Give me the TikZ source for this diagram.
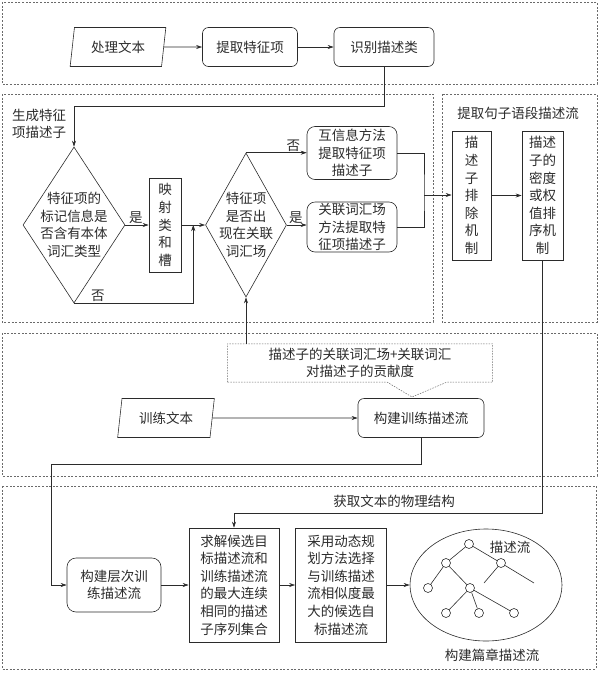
\documentclass[tikz,border=0pt]{standalone}
\usepackage{fontspec}
\newfontfamily\zhfont{Noto Sans CJK SC}
\usetikzlibrary{arrows.meta, positioning, calc, shapes.geometric}
\definecolor{inkgray}{HTML}{2B2B2B}
\definecolor{framegray}{HTML}{6A6A6A}
\tikzset{
  txt/.style={font=\zhfont\fontsize{13.5}{17.6}\selectfont, text=inkgray,
              align=center, inner sep=0pt},
  base/.style={txt, draw=inkgray, line width=0.6pt},
  plain/.style={base, rectangle},
  proc/.style={base, rectangle, rounded corners=6pt, minimum height=39pt},
  io/.style={base, trapezium, trapezium left angle=78, trapezium right angle=102,
             trapezium stretches=true, minimum width=#1, minimum height=39pt},
  io/.default=96pt,
  decide/.style={base, diamond},
  lbl/.style={font=\zhfont\fontsize{13.5}{17.6}\selectfont, text=inkgray, inner sep=1pt},
  region/.style={draw=framegray, line width=0.5pt, dash pattern=on 2pt off 1.6pt},
  note/.style={draw=framegray, line width=0.5pt, dash pattern=on 1.5pt off 1.2pt},
  arr/.style={-{Stealth[length=6pt, width=4pt]}, draw=inkgray, line width=0.6pt},
  wire/.style={draw=inkgray, line width=0.6pt},
  tnode/.style={circle, draw=inkgray, line width=0.6pt, minimum size=9pt, inner sep=0pt},
}

\begin{document}
\begin{tikzpicture}[x=1pt, y=-1pt]
  \useasboundingbox (0,0) rectangle (599,673);

  % Dashed frames of the five stages
  \draw[region] (2,2) rectangle (597,84);
  \draw[region] (2,94) rectangle (433,322);
  \draw[region] (442,94) rectangle (597,322);
  \draw[region] (2,333) rectangle (597,476);
  \draw[region] (2,486) rectangle (596,669);

  % Text preprocessing
  \node[io=96pt] (rawtext) at (118,47) {处理文本};
  \node[proc, minimum width=95pt] (extract) at (250,47) {提取特征项};
  \node[proc, minimum width=100pt] (ident) at (384,47) {识别描述类};

  % Feature item descriptors
  \node[lbl, align=left, anchor=west] (gendesc) at (11,124) {生成特征\\项描述子};
  \node[decide, minimum width=102pt, minimum height=156pt,
        label={[txt]center:{特征项的\\标记信息是\\否含有本体\\词汇类型}}] (onto) at (74,225) {};
  \node[plain, minimum width=32pt, minimum height=94pt] (mapslot) at (165,225) {映\\射\\类\\和\\槽};
  \node[decide, minimum width=81pt, minimum height=144pt,
        label={[txt]center:{特征项\\是否出\\现在关联\\词汇场}}] (infield) at (246,225) {};
  \coordinate (junc) at ($(mapslot.east)!0.5!(infield.west)$);
  \node[proc, minimum width=90pt, minimum height=53pt, rounded corners=8pt] (mutual) at (352,153) {互信息方法\\提取特征项\\描述子};
  \node[proc, minimum width=90pt, minimum height=50pt, rounded corners=8pt] (relfield) at (352,227) {关联词汇场\\方法提取特\\征项描述子};
  \coordinate (merge) at (424,195);

  % Sentence segment descriptor flow
  \node[lbl] (sentlbl) at (518,113) {提取句子语段描述流};
  \node[plain, minimum width=39pt, minimum height=129pt] (exclude) at (471.5,195.5) {描\\述\\子\\排\\除\\机\\制};
  \node[plain, minimum width=41pt, minimum height=129pt] (rank) at (542.5,195.5) {描述\\子的\\密度\\或权\\值排\\序机\\制};

  % Training flow
  \node[txt, minimum width=265pt, minimum height=38pt] (contrib) at (360,363) {描述子的关联词汇场+关联词汇\\对描述子的贡献度};
  \coordinate (tip) at (412,397);
  \node[io=97pt] (train) at (166,418) {训练文本};
  \node[proc, minimum width=126pt] (buildtrain) at (421,418) {构建训练描述流};

  % Chapter descriptor flow
  \node[proc, minimum width=94pt, minimum height=54pt, rounded corners=9pt] (layered) at (114,585) {构建层次训\\练描述流};
  \node[plain, minimum width=90pt, minimum height=114pt] (solve) at (234,585) {求解候选目\\标描述流和\\训练描述流\\的最大连续\\相同的描述\\子序列集合};
  \node[plain, minimum width=91pt, minimum height=114pt] (dynprog) at (341,585) {采用动态规\\划方法选择\\与训练描述\\流相似度最\\大的候选自\\标描述流};
  \node[base, ellipse, minimum width=152pt, minimum height=112pt] (docflow) at (486,585) {};
  \node[lbl] (physlbl) at (394,501) {获取文本的物理结构};
  \node[lbl] (treelbl) at (510,547) {描述流};
  \node[lbl] (doclbl) at (492,655) {构建篇章描述流};

  % Tree inside the ellipse
  \node[tnode] (t1) at (469,544) {};
  \node[tnode] (t2) at (446,563) {};
  \node[tnode] (t3) at (501,563) {};
  \node[tnode] (t4) at (428,588) {};
  \node[tnode] (t5) at (470,588) {};
  \node[tnode] (t6) at (446,613) {};
  \node[tnode] (t7) at (479,613) {};
  \node[tnode] (t8) at (514,613) {};
  \coordinate (open1) at (484,583);
  \coordinate (open2) at (534,583);
  \draw[wire] (t1) -- (t2);
  \draw[wire] (t1) -- (t3);
  \draw[wire] (t2) -- (t4);
  \draw[wire] (t2) -- (t5);
  \draw[wire] (t5) -- (t6);
  \draw[wire] (t5) -- (t7);
  \draw[wire] (t5) -- (t8);
  \draw[wire] (t3) -- (open1);
  \draw[wire] (t3) -- (open2);

  % Callout outline
  \draw[note] (contrib.south west) |- (contrib.north east) -- (contrib.south east)
    -- ++(-46,0) -- (tip) -- ($(contrib.south west)+(160,0)$) -- cycle;

  % Arrows
  \draw[arr] (rawtext) -- (extract);
  \draw[arr] (extract) -- (ident);
  \draw[arr] (ident.south) -- ++(0,39) -| (onto.north);
  \draw[arr] (onto.east) -- node[lbl, above, pos=0.45] {是} (mapslot.west);
  \draw[arr] (mapslot.east) -- (infield.west);
  \draw[arr] (onto.south) -| node[lbl, above, pos=0.1] {否} (junc);
  \draw[arr] (infield.north) -- node[lbl, above, pos=0.78] {否} (infield.north -| mutual.west);
  \draw[arr] (infield.east) -- node[lbl, above, pos=0.45] {是} (infield.east -| relfield.west);
  \draw[wire] (mutual.east) -| (merge) |- (relfield.east);
  \draw[arr] (merge) -- (merge -| exclude.west);
  \draw[arr] (exclude) -- (rank);
  \draw[arr] (rank.south) -- ++(0,253) -| (solve.north);
  \draw[arr] (infield.south |- contrib.north) -- (infield.south);
  \draw[arr] (train) -- (buildtrain);
  \draw[arr] (buildtrain.south) -- ++(0,26) -| ([xshift=-15pt]layered.west) -- (layered.west);
  \draw[arr] (layered) -- (solve);
  \draw[arr] (solve) -- (dynprog);
  \draw[arr] (dynprog) -- (docflow);
\end{tikzpicture}
\end{document}
